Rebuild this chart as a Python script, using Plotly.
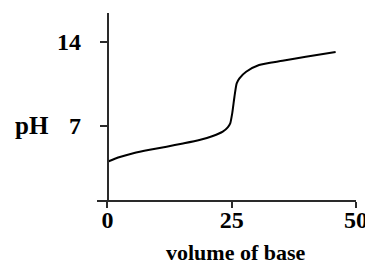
import plotly.graph_objects as go

# Data
volume = [0, 2.5, 5.2, 8.5, 11.9, 15.2, 18.5, 21.2, 23.2, 24.2, 24.7, 25.1, 25.55, 26.0, 26.55, 27.9, 30.5, 35.2, 39.9, 45.9]
ph = [4.03, 4.42, 4.73, 5.02, 5.28, 5.55, 5.84, 6.17, 6.53, 6.89, 7.22, 8.05, 9.43, 10.54, 10.96, 11.51, 12.07, 12.42, 12.76, 13.15]

x_ticks = [0, 25, 50]
y_ticks = [7, 14]

FONT = "Liberation Serif"
AX = "#2a2a2a"

# page body has an 8px default margin; compensate
OFF = 8

fig = go.Figure()
fig.add_trace(go.Scatter(
    x=volume, y=ph, mode="lines",
    line=dict(color="black", width=2, shape="spline", smoothing=0.6),
    hoverinfo="skip", showlegend=False,
))

fig.update_layout(
    width=373 - OFF, height=265 - OFF,
    margin=dict(l=97 - OFF, r=17, t=13 - OFF, b=65, autoexpand=False),
    paper_bgcolor="white", plot_bgcolor="white",
    showlegend=False,
    xaxis=dict(
        range=[-2.1, 50], showgrid=False, zeroline=False, automargin=False,
        showline=True, linecolor=AX, linewidth=1.5,
        ticks="outside", ticklen=6, tickwidth=1.5, tickcolor=AX,
        tickvals=x_ticks, ticktext=[str(v) for v in x_ticks],
        tickfont=dict(family=FONT, size=24, color="black", weight="bold"),
        ticklabelstandoff=-9,
    ),
    yaxis=dict(
        range=[0.85, 16.39], showgrid=False, zeroline=False, automargin=False,
        anchor="free", position=(107.5 - 97) / 259,
        showline=True, linecolor=AX, linewidth=1.5,
        ticks="outside", ticklen=7, tickwidth=1.5, tickcolor=AX,
        tickvals=y_ticks, ticktext=[str(v) for v in y_ticks],
        tickfont=dict(family=FONT, size=24, color="black", weight="bold"),
        ticklabelstandoff=14,
    ),
    annotations=[
        dict(text="pH", xref="paper", yref="y", x=(31.7 - 97) / 259, y=7,
             xanchor="center", yanchor="middle", showarrow=False,
             font=dict(family=FONT, size=25, color="black", weight="bold")),
        dict(text="volume of base", xref="paper", yref="paper",
             x=(235.5 - 97) / 259, y=(200 - 252) / 187,
             xanchor="center", yanchor="middle", showarrow=False,
             font=dict(family=FONT, size=22, color="black", weight="bold")),
    ],
)

fig.write_html("out.html")
